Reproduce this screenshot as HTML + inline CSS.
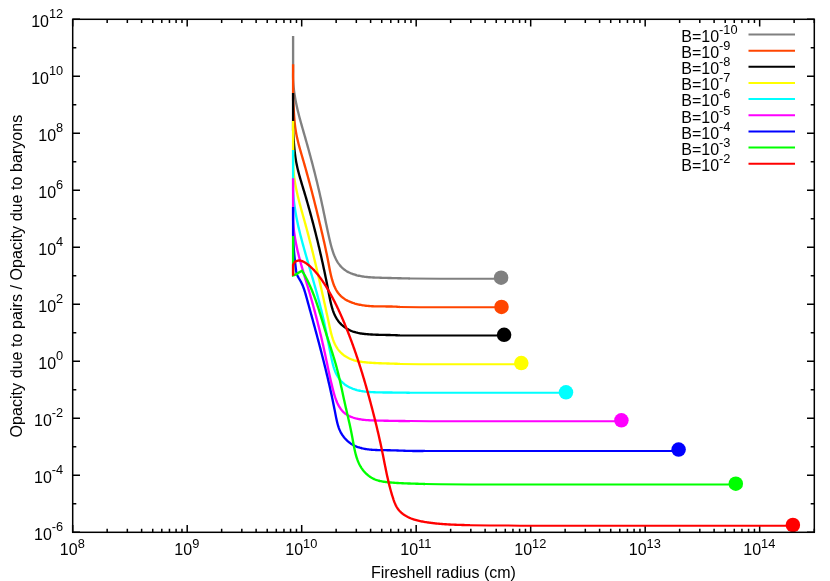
<!DOCTYPE html>
<html lang="en"><head><meta charset="utf-8"><title>Opacity ratio vs fireshell radius</title>
<style>
html,body{margin:0;padding:0;background:#fff;}
body{width:830px;height:581px;overflow:hidden;}
svg{display:block;will-change:transform;}
text{font-family:"Liberation Sans",sans-serif;font-size:16px;fill:#000;}
.s{font-size:12.8px;}
.ax{stroke:#000;stroke-width:1.5;fill:none;shape-rendering:auto;}
.c{fill:none;stroke-width:2.35;stroke-linejoin:miter;stroke-linecap:butt;}
.t{stroke-width:2;}
</style></head><body>
<svg width="830" height="581" viewBox="0 0 830 581">
<rect x="0" y="0" width="830" height="581" fill="#ffffff"/>
<path class="ax" d="M72.7 532.3v-7.3M72.7 19.3v7.3M107.17 532.3v-3.6M107.17 19.3v3.6M127.33 532.3v-3.6M127.33 19.3v3.6M141.63 532.3v-3.6M141.63 19.3v3.6M152.73 532.3v-3.6M152.73 19.3v3.6M161.79 532.3v-3.6M161.79 19.3v3.6M169.46 532.3v-3.6M169.46 19.3v3.6M176.1 532.3v-3.6M176.1 19.3v3.6M181.96 532.3v-3.6M181.96 19.3v3.6M187.2 532.3v-7.3M187.2 19.3v7.3M221.66 532.3v-3.6M221.66 19.3v3.6M241.82 532.3v-3.6M241.82 19.3v3.6M256.13 532.3v-3.6M256.13 19.3v3.6M267.22 532.3v-3.6M267.22 19.3v3.6M276.29 532.3v-3.6M276.29 19.3v3.6M283.96 532.3v-3.6M283.96 19.3v3.6M290.59 532.3v-3.6M290.59 19.3v3.6M296.45 532.3v-3.6M296.45 19.3v3.6M301.69 532.3v-7.3M301.69 19.3v7.3M336.16 532.3v-3.6M336.16 19.3v3.6M356.32 532.3v-3.6M356.32 19.3v3.6M370.62 532.3v-3.6M370.62 19.3v3.6M381.72 532.3v-3.6M381.72 19.3v3.6M390.79 532.3v-3.6M390.79 19.3v3.6M398.45 532.3v-3.6M398.45 19.3v3.6M405.09 532.3v-3.6M405.09 19.3v3.6M410.95 532.3v-3.6M410.95 19.3v3.6M416.19 532.3v-7.3M416.19 19.3v7.3M450.65 532.3v-3.6M450.65 19.3v3.6M470.81 532.3v-3.6M470.81 19.3v3.6M485.12 532.3v-3.6M485.12 19.3v3.6M496.21 532.3v-3.6M496.21 19.3v3.6M505.28 532.3v-3.6M505.28 19.3v3.6M512.95 532.3v-3.6M512.95 19.3v3.6M519.59 532.3v-3.6M519.59 19.3v3.6M525.44 532.3v-3.6M525.44 19.3v3.6M530.68 532.3v-7.3M530.68 19.3v7.3M565.15 532.3v-3.6M565.15 19.3v3.6M585.31 532.3v-3.6M585.31 19.3v3.6M599.61 532.3v-3.6M599.61 19.3v3.6M610.71 532.3v-3.6M610.71 19.3v3.6M619.78 532.3v-3.6M619.78 19.3v3.6M627.44 532.3v-3.6M627.44 19.3v3.6M634.08 532.3v-3.6M634.08 19.3v3.6M639.94 532.3v-3.6M639.94 19.3v3.6M645.18 532.3v-7.3M645.18 19.3v7.3M679.64 532.3v-3.6M679.64 19.3v3.6M699.8 532.3v-3.6M699.8 19.3v3.6M714.11 532.3v-3.6M714.11 19.3v3.6M725.21 532.3v-3.6M725.21 19.3v3.6M734.27 532.3v-3.6M734.27 19.3v3.6M741.94 532.3v-3.6M741.94 19.3v3.6M748.58 532.3v-3.6M748.58 19.3v3.6M754.43 532.3v-3.6M754.43 19.3v3.6M759.67 532.3v-7.3M759.67 19.3v7.3M794.14 532.3v-3.6M794.14 19.3v3.6M814.3 532.3v-3.6M814.3 19.3v3.6M72.7 532.3h7.3M814.3 532.3h-7.3M72.7 503.8h3.6M814.3 503.8h-3.6M72.7 475.3h7.3M814.3 475.3h-7.3M72.7 446.8h3.6M814.3 446.8h-3.6M72.7 418.3h7.3M814.3 418.3h-7.3M72.7 389.8h3.6M814.3 389.8h-3.6M72.7 361.3h7.3M814.3 361.3h-7.3M72.7 332.8h3.6M814.3 332.8h-3.6M72.7 304.3h7.3M814.3 304.3h-7.3M72.7 275.8h3.6M814.3 275.8h-3.6M72.7 247.3h7.3M814.3 247.3h-7.3M72.7 218.8h3.6M814.3 218.8h-3.6M72.7 190.3h7.3M814.3 190.3h-7.3M72.7 161.8h3.6M814.3 161.8h-3.6M72.7 133.3h7.3M814.3 133.3h-7.3M72.7 104.8h3.6M814.3 104.8h-3.6M72.7 76.3h7.3M814.3 76.3h-7.3M72.7 47.8h3.6M814.3 47.8h-3.6M72.7 19.3h7.3M814.3 19.3h-7.3"/>
<text x="63.2" y="539.7" text-anchor="end">10<tspan class="s" dy="-8.7">-6</tspan></text>
<text x="63.2" y="482.7" text-anchor="end">10<tspan class="s" dy="-8.7">-4</tspan></text>
<text x="63.2" y="425.7" text-anchor="end">10<tspan class="s" dy="-8.7">-2</tspan></text>
<text x="63.2" y="368.7" text-anchor="end">10<tspan class="s" dy="-8.7">0</tspan></text>
<text x="63.2" y="311.7" text-anchor="end">10<tspan class="s" dy="-8.7">2</tspan></text>
<text x="63.2" y="254.7" text-anchor="end">10<tspan class="s" dy="-8.7">4</tspan></text>
<text x="63.2" y="197.7" text-anchor="end">10<tspan class="s" dy="-8.7">6</tspan></text>
<text x="63.2" y="140.7" text-anchor="end">10<tspan class="s" dy="-8.7">8</tspan></text>
<text x="63.2" y="83.7" text-anchor="end">10<tspan class="s" dy="-8.7">10</tspan></text>
<text x="63.2" y="26.7" text-anchor="end">10<tspan class="s" dy="-8.7">12</tspan></text>
<text x="72.3" y="555.4" text-anchor="middle">10<tspan class="s" dy="-7.8">8</tspan></text>
<text x="186.8" y="555.4" text-anchor="middle">10<tspan class="s" dy="-7.8">9</tspan></text>
<text x="301.29" y="555.4" text-anchor="middle">10<tspan class="s" dy="-7.8">10</tspan></text>
<text x="415.79" y="555.4" text-anchor="middle">10<tspan class="s" dy="-7.8">11</tspan></text>
<text x="530.28" y="555.4" text-anchor="middle">10<tspan class="s" dy="-7.8">12</tspan></text>
<text x="644.78" y="555.4" text-anchor="middle">10<tspan class="s" dy="-7.8">13</tspan></text>
<text x="759.27" y="555.4" text-anchor="middle">10<tspan class="s" dy="-7.8">14</tspan></text>
<text x="443.5" y="578.2" text-anchor="middle">Fireshell radius (cm)</text>
<text transform="translate(21.6,276.1) rotate(-90)" text-anchor="middle" textLength="322.8" lengthAdjust="spacing">Opacity due to pairs / Opacity due to baryons</text>
<text x="681.3" y="41.9">B=10<tspan class="s" dy="-8">-10</tspan></text>
<path class="c t" stroke="#808080" d="M748.5 34.6H795"/>
<text x="681.3" y="58.03">B=10<tspan class="s" dy="-8">-9</tspan></text>
<path class="c t" stroke="#ff4500" d="M748.5 50.73H795"/>
<text x="681.3" y="74.16">B=10<tspan class="s" dy="-8">-8</tspan></text>
<path class="c t" stroke="#000000" d="M748.5 66.86H795"/>
<text x="681.3" y="90.29">B=10<tspan class="s" dy="-8">-7</tspan></text>
<path class="c t" stroke="#ffff00" d="M748.5 82.99H795"/>
<text x="681.3" y="106.42">B=10<tspan class="s" dy="-8">-6</tspan></text>
<path class="c t" stroke="#00ffff" d="M748.5 99.12H795"/>
<text x="681.3" y="122.55">B=10<tspan class="s" dy="-8">-5</tspan></text>
<path class="c t" stroke="#ff00ff" d="M748.5 115.25H795"/>
<text x="681.3" y="138.68">B=10<tspan class="s" dy="-8">-4</tspan></text>
<path class="c t" stroke="#0000ff" d="M748.5 131.38H795"/>
<text x="681.3" y="154.81">B=10<tspan class="s" dy="-8">-3</tspan></text>
<path class="c t" stroke="#00ff00" d="M748.5 147.51H795"/>
<text x="681.3" y="170.94">B=10<tspan class="s" dy="-8">-2</tspan></text>
<path class="c t" stroke="#ff0000" d="M748.5 163.64H795"/>
<polyline class="c" stroke="#808080" points="293.1,36 293.1,72 293.07,73.02 293.06,74.04 293.05,75.05 293.05,76.07 293.06,77.08 293.08,78.09 293.11,79.1 293.15,80.11 293.2,81.11 293.25,82.11 293.32,83.12 293.39,84.12 293.47,85.11 293.55,86.11 293.65,87.11 293.75,88.1 293.86,89.09 293.97,90.09 294.1,91.08 294.23,92.06 294.37,93.05 294.51,94.04 294.66,95.02 294.82,96.01 294.98,96.99 295.15,97.97 295.32,98.95 295.5,99.93 295.69,100.91 295.88,101.89 296.07,102.86 296.27,103.84 296.48,104.81 296.69,105.79 296.9,106.76 297.12,107.73 297.34,108.7 297.57,109.67 297.8,110.64 298.04,111.61 298.27,112.58 298.52,113.55 298.76,114.52 299.01,115.48 299.26,116.45 299.51,117.42 299.77,118.38 300.03,119.35 300.29,120.31 300.55,121.28 300.82,122.24 301.09,123.21 301.36,124.17 301.63,125.13 301.9,126.1 302.17,127.06 302.45,128.02 302.72,128.99 303,129.95 303.27,130.92 303.55,131.88 303.83,132.84 304.11,133.81 304.38,134.77 304.66,135.74 304.94,136.7 305.21,137.67 305.49,138.63 305.76,139.6 306.04,140.56 306.31,141.53 306.59,142.5 306.86,143.46 307.13,144.43 307.4,145.4 307.67,146.37 307.94,147.33 308.21,148.3 308.47,149.27 308.74,150.24 309.01,151.21 309.27,152.18 309.53,153.15 309.8,154.12 310.06,155.09 310.32,156.06 310.58,157.03 310.84,158 311.1,158.97 311.36,159.94 311.62,160.91 311.87,161.88 312.13,162.86 312.38,163.83 312.64,164.8 312.89,165.77 313.14,166.74 313.39,167.72 313.64,168.69 313.89,169.66 314.14,170.63 314.39,171.61 314.63,172.58 314.88,173.55 315.12,174.52 315.36,175.5 315.61,176.47 315.85,177.44 316.09,178.42 316.32,179.39 316.56,180.36 316.8,181.33 317.04,182.31 317.27,183.28 317.5,184.25 317.74,185.23 317.97,186.2 318.2,187.17 318.43,188.15 318.66,189.12 318.88,190.09 319.11,191.06 319.33,192.04 319.56,193.01 319.78,193.98 320,194.95 320.22,195.93 320.44,196.9 320.66,197.87 320.88,198.84 321.09,199.81 321.31,200.79 321.52,201.76 321.73,202.73 321.94,203.7 322.15,204.67 322.36,205.64 322.57,206.61 322.77,207.58 322.98,208.55 323.18,209.52 323.38,210.49 323.59,211.47 323.79,212.44 323.99,213.41 324.19,214.38 324.39,215.35 324.59,216.32 324.79,217.3 325,218.27 325.2,219.24 325.4,220.22 325.6,221.19 325.8,222.17 326.01,223.15 326.21,224.12 326.42,225.1 326.62,226.08 326.83,227.06 327.04,228.05 327.25,229.03 327.46,230.02 327.68,231 327.89,231.99 328.11,232.98 328.33,233.97 328.55,234.96 328.78,235.96 329,236.95 329.23,237.95 329.46,238.95 329.7,239.96 329.94,240.96 330.18,241.96 330.42,242.97 330.67,243.97 330.93,244.97 331.19,245.97 331.47,246.97 331.74,247.96 332.03,248.95 332.33,249.93 332.64,250.91 332.96,251.87 333.29,252.83 333.63,253.78 333.99,254.72 334.36,255.65 334.75,256.56 335.15,257.47 335.57,258.36 336,259.24 336.45,260.1 336.92,260.94 337.41,261.77 337.92,262.58 338.45,263.37 339,264.15 339.58,264.9 340.17,265.63 340.79,266.34 341.43,267.03 342.1,267.69 342.8,268.33 343.52,268.95 344.26,269.53 345.04,270.1 345.84,270.63 346.66,271.14 347.5,271.63 348.37,272.1 349.25,272.54 350.15,272.95 351.07,273.35 352,273.72 352.95,274.07 353.91,274.4 354.88,274.71 355.86,275 356.85,275.28 357.85,275.53 358.85,275.76 359.86,275.97 360.87,276.17 361.88,276.35 362.9,276.51 363.91,276.66 364.92,276.8 365.94,276.92 366.95,277.02 367.97,277.12 368.98,277.21 370,277.28 371.01,277.35 372.03,277.41 373.04,277.47 374.05,277.51 375.06,277.56 376.07,277.6 377.07,277.63 378.07,277.67 379.08,277.7 380.08,277.74 381.07,277.77 382.07,277.8 383.06,277.83 384.06,277.86 385.05,277.89 386.04,277.92 387.03,277.94 388.02,277.97 389.01,277.99 390,278.02 390.99,278.04 391.98,278.07 392.97,278.09 393.96,278.11 394.95,278.14 395.94,278.16 396.94,278.18 397.93,278.21 398.93,278.23 399.92,278.25 400.92,278.27 401.92,278.3 402.92,278.32 403.93,278.35 404.93,278.37 405.94,278.39 406.95,278.42 407.96,278.45 408.98,278.47 410,278.5"/>
<polyline class="c t" stroke="#808080" points="410,278.5 440,278.7 501.1,278.7"/>
<polyline class="c" stroke="#ff4500" points="293.1,64.2 293.1,100 293.17,100.99 293.24,101.99 293.31,102.98 293.37,103.98 293.43,104.98 293.5,105.97 293.56,106.98 293.62,107.98 293.68,108.98 293.74,109.98 293.8,110.99 293.87,111.99 293.93,113 294,114 294.06,115.01 294.14,116.01 294.21,117.02 294.29,118.02 294.37,119.03 294.46,120.03 294.55,121.04 294.64,122.04 294.74,123.04 294.85,124.04 294.96,125.04 295.08,126.04 295.21,127.03 295.34,128.03 295.48,129.02 295.63,130.01 295.79,131 295.96,131.99 296.13,132.98 296.31,133.96 296.51,134.94 296.7,135.92 296.91,136.9 297.12,137.87 297.34,138.85 297.57,139.82 297.8,140.79 298.04,141.76 298.28,142.73 298.53,143.7 298.78,144.67 299.03,145.63 299.29,146.6 299.56,147.56 299.82,148.53 300.09,149.49 300.37,150.45 300.64,151.41 300.92,152.38 301.2,153.34 301.47,154.3 301.76,155.26 302.04,156.22 302.32,157.18 302.6,158.15 302.88,159.11 303.16,160.07 303.44,161.03 303.72,162 304,162.96 304.28,163.92 304.55,164.89 304.83,165.85 305.1,166.82 305.38,167.79 305.65,168.75 305.92,169.72 306.19,170.69 306.46,171.65 306.73,172.62 307,173.59 307.27,174.56 307.53,175.53 307.8,176.49 308.06,177.46 308.33,178.43 308.59,179.4 308.85,180.37 309.11,181.34 309.38,182.31 309.64,183.28 309.9,184.25 310.15,185.23 310.41,186.2 310.67,187.17 310.93,188.14 311.18,189.11 311.44,190.08 311.69,191.06 311.94,192.03 312.2,193 312.45,193.97 312.7,194.95 312.95,195.92 313.2,196.89 313.45,197.87 313.7,198.84 313.94,199.81 314.19,200.79 314.44,201.76 314.68,202.73 314.93,203.71 315.17,204.68 315.42,205.65 315.66,206.63 315.9,207.6 316.14,208.57 316.39,209.55 316.63,210.52 316.87,211.49 317.11,212.47 317.34,213.44 317.58,214.41 317.82,215.39 318.06,216.36 318.29,217.33 318.53,218.31 318.77,219.28 319,220.25 319.23,221.22 319.47,222.2 319.7,223.17 319.93,224.14 320.17,225.11 320.4,226.08 320.63,227.05 320.86,228.03 321.09,229 321.32,229.97 321.55,230.94 321.78,231.91 322,232.88 322.23,233.85 322.46,234.82 322.68,235.8 322.91,236.77 323.13,237.74 323.35,238.71 323.58,239.68 323.8,240.66 324.02,241.63 324.24,242.6 324.45,243.58 324.67,244.55 324.89,245.53 325.1,246.51 325.31,247.48 325.53,248.46 325.74,249.44 325.95,250.42 326.15,251.4 326.36,252.39 326.57,253.37 326.77,254.35 326.97,255.34 327.17,256.33 327.37,257.31 327.57,258.3 327.76,259.29 327.96,260.29 328.15,261.28 328.34,262.28 328.53,263.27 328.72,264.27 328.91,265.27 329.1,266.27 329.29,267.27 329.48,268.27 329.67,269.27 329.87,270.27 330.07,271.27 330.28,272.27 330.5,273.27 330.72,274.26 330.95,275.26 331.19,276.25 331.44,277.24 331.7,278.23 331.97,279.21 332.25,280.2 332.55,281.17 332.86,282.14 333.18,283.1 333.52,284.05 333.88,285 334.25,285.93 334.65,286.84 335.06,287.74 335.5,288.63 335.95,289.49 336.43,290.34 336.93,291.17 337.46,291.97 338.01,292.75 338.59,293.51 339.19,294.24 339.83,294.94 340.49,295.62 341.17,296.27 341.88,296.9 342.61,297.5 343.37,298.07 344.14,298.62 344.94,299.15 345.76,299.65 346.6,300.13 347.45,300.59 348.32,301.03 349.21,301.45 350.12,301.84 351.04,302.22 351.97,302.57 352.91,302.91 353.87,303.22 354.83,303.52 355.81,303.8 356.79,304.06 357.79,304.31 358.79,304.54 359.79,304.75 360.8,304.95 361.82,305.13 362.83,305.29 363.85,305.45 364.88,305.59 365.9,305.71 366.92,305.82 367.94,305.92 368.96,306.01 369.97,306.09 370.98,306.16 372,306.22 373.01,306.27 374.02,306.31 375.02,306.34 376.03,306.37 377.04,306.39 378.04,306.41 379.04,306.42 380.04,306.43 381.04,306.43 382.04,306.44 383.04,306.44 384.04,306.44 385.04,306.45 386.04,306.45 387.04,306.45 388.03,306.46 389.03,306.47 390.03,306.48 391.02,306.5 392.02,306.53 393.01,306.56 394.01,306.59 395.01,306.64 396.01,306.69 397,306.75 398,306.82 399,306.91 400,307"/>
<polyline class="c t" stroke="#ff4500" points="400,307 420,307.25 501.5,307.25"/>
<polyline class="c" stroke="#000000" points="293.1,92.9 293.1,130 293.15,130.99 293.21,131.98 293.26,132.97 293.32,133.96 293.38,134.96 293.43,135.96 293.49,136.95 293.55,137.95 293.62,138.95 293.68,139.95 293.75,140.95 293.82,141.95 293.89,142.95 293.97,143.96 294.05,144.96 294.14,145.96 294.22,146.96 294.32,147.96 294.41,148.96 294.51,149.96 294.62,150.96 294.73,151.96 294.85,152.96 294.97,153.96 295.1,154.95 295.23,155.95 295.37,156.94 295.52,157.93 295.68,158.92 295.84,159.91 296.01,160.9 296.18,161.88 296.37,162.86 296.56,163.84 296.76,164.82 296.97,165.79 297.18,166.77 297.4,167.74 297.63,168.71 297.86,169.67 298.1,170.64 298.34,171.61 298.59,172.57 298.84,173.53 299.1,174.49 299.37,175.45 299.63,176.41 299.9,177.37 300.18,178.33 300.45,179.28 300.73,180.24 301.01,181.2 301.3,182.15 301.58,183.11 301.87,184.06 302.16,185.02 302.45,185.97 302.74,186.93 303.03,187.88 303.32,188.84 303.61,189.79 303.9,190.75 304.19,191.71 304.47,192.67 304.76,193.62 305.05,194.58 305.33,195.54 305.61,196.5 305.9,197.46 306.18,198.43 306.46,199.39 306.74,200.35 307.02,201.31 307.29,202.28 307.57,203.24 307.84,204.21 308.12,205.17 308.39,206.14 308.66,207.1 308.93,208.07 309.2,209.03 309.47,210 309.74,210.97 310.01,211.94 310.27,212.91 310.54,213.87 310.8,214.84 311.07,215.81 311.33,216.78 311.59,217.75 311.85,218.72 312.11,219.69 312.36,220.66 312.62,221.63 312.88,222.6 313.13,223.57 313.38,224.54 313.64,225.52 313.89,226.49 314.14,227.46 314.39,228.43 314.64,229.4 314.88,230.37 315.13,231.34 315.37,232.32 315.62,233.29 315.86,234.26 316.1,235.23 316.35,236.2 316.59,237.17 316.82,238.14 317.06,239.12 317.3,240.09 317.54,241.06 317.77,242.03 318.01,243 318.24,243.97 318.47,244.94 318.7,245.91 318.93,246.88 319.16,247.85 319.39,248.82 319.61,249.79 319.84,250.76 320.07,251.73 320.29,252.7 320.51,253.66 320.73,254.63 320.95,255.6 321.17,256.57 321.39,257.53 321.61,258.5 321.83,259.46 322.04,260.43 322.26,261.4 322.47,262.36 322.68,263.33 322.9,264.29 323.11,265.26 323.32,266.23 323.53,267.19 323.73,268.16 323.94,269.13 324.15,270.1 324.35,271.07 324.56,272.04 324.76,273.01 324.97,273.98 325.17,274.96 325.37,275.93 325.57,276.91 325.77,277.88 325.97,278.86 326.17,279.84 326.37,280.82 326.57,281.81 326.77,282.79 326.96,283.78 327.16,284.77 327.36,285.76 327.55,286.75 327.74,287.75 327.94,288.74 328.13,289.74 328.32,290.74 328.52,291.75 328.71,292.76 328.9,293.77 329.09,294.78 329.29,295.79 329.48,296.8 329.68,297.81 329.89,298.83 330.09,299.84 330.31,300.84 330.53,301.85 330.76,302.85 330.99,303.84 331.24,304.83 331.5,305.82 331.76,306.79 332.04,307.76 332.34,308.72 332.64,309.68 332.96,310.62 333.3,311.55 333.65,312.48 334.02,313.39 334.4,314.29 334.81,315.17 335.23,316.04 335.68,316.9 336.15,317.74 336.63,318.57 337.15,319.38 337.68,320.17 338.24,320.95 338.83,321.7 339.44,322.44 340.08,323.15 340.75,323.85 341.43,324.53 342.15,325.18 342.88,325.81 343.63,326.43 344.41,327.01 345.21,327.58 346.02,328.12 346.86,328.64 347.71,329.14 348.57,329.61 349.46,330.05 350.35,330.47 351.26,330.87 352.19,331.24 353.12,331.58 354.07,331.89 355.03,332.18 355.99,332.45 356.97,332.69 357.95,332.92 358.94,333.12 359.94,333.3 360.94,333.47 361.94,333.62 362.95,333.76 363.96,333.88 364.98,333.99 365.99,334.09 367,334.18 368.02,334.26 369.03,334.34 370.04,334.41 371.05,334.47 372.05,334.53 373.06,334.58 374.06,334.63 375.07,334.67 376.07,334.71 377.07,334.75 378.07,334.78 379.07,334.81 380.07,334.84 381.07,334.86 382.06,334.88 383.06,334.91 384.06,334.93 385.05,334.94 386.05,334.96 387.04,334.98 388.04,335 389.04,335.02 390.03,335.04 391.03,335.07 392.02,335.09 393.02,335.12 394.01,335.15 395.01,335.18 396.01,335.22 397,335.25 398,335.3 399,335.35 400,335.4"/>
<polyline class="c t" stroke="#000000" points="400,335.4 425,335.5 504.1,335.5"/>
<polyline class="c" stroke="#ffff00" points="293.1,121.1 293.1,160 293.1,161.02 293.1,162.04 293.11,163.05 293.14,164.07 293.17,165.08 293.21,166.09 293.26,167.1 293.32,168.11 293.38,169.11 293.46,170.11 293.54,171.11 293.63,172.11 293.73,173.11 293.83,174.11 293.94,175.1 294.06,176.09 294.19,177.08 294.32,178.07 294.46,179.06 294.61,180.05 294.76,181.03 294.92,182.02 295.09,183 295.26,183.98 295.44,184.96 295.62,185.94 295.81,186.92 296,187.9 296.2,188.87 296.4,189.85 296.61,190.82 296.82,191.79 297.04,192.77 297.26,193.74 297.48,194.71 297.71,195.68 297.94,196.65 298.18,197.62 298.42,198.58 298.66,199.55 298.9,200.52 299.15,201.49 299.4,202.45 299.65,203.42 299.91,204.38 300.17,205.35 300.43,206.31 300.69,207.28 300.95,208.24 301.21,209.2 301.48,210.17 301.75,211.13 302.02,212.1 302.28,213.06 302.55,214.02 302.82,214.99 303.09,215.95 303.36,216.92 303.64,217.88 303.91,218.85 304.18,219.81 304.45,220.78 304.71,221.74 304.98,222.71 305.25,223.67 305.52,224.64 305.78,225.61 306.04,226.58 306.31,227.55 306.57,228.51 306.83,229.48 307.09,230.45 307.35,231.42 307.61,232.39 307.87,233.37 308.12,234.34 308.38,235.31 308.63,236.28 308.89,237.25 309.14,238.22 309.39,239.2 309.64,240.17 309.89,241.14 310.14,242.11 310.39,243.09 310.64,244.06 310.89,245.04 311.13,246.01 311.38,246.98 311.63,247.96 311.87,248.93 312.11,249.91 312.36,250.88 312.6,251.86 312.84,252.83 313.08,253.81 313.32,254.78 313.56,255.76 313.79,256.73 314.03,257.71 314.27,258.68 314.51,259.66 314.74,260.63 314.98,261.61 315.21,262.58 315.44,263.56 315.68,264.53 315.91,265.51 316.14,266.48 316.37,267.46 316.6,268.43 316.83,269.4 317.06,270.38 317.29,271.35 317.52,272.33 317.74,273.3 317.97,274.27 318.2,275.25 318.42,276.22 318.65,277.19 318.87,278.16 319.1,279.14 319.32,280.11 319.54,281.08 319.76,282.05 319.99,283.02 320.21,283.99 320.43,284.96 320.65,285.93 320.87,286.9 321.09,287.87 321.31,288.84 321.53,289.81 321.75,290.78 321.97,291.75 322.18,292.72 322.4,293.68 322.62,294.65 322.83,295.62 323.05,296.59 323.27,297.56 323.48,298.53 323.7,299.5 323.91,300.47 324.13,301.44 324.34,302.41 324.56,303.38 324.77,304.35 324.99,305.32 325.2,306.3 325.41,307.27 325.63,308.25 325.84,309.23 326.05,310.21 326.27,311.19 326.48,312.17 326.69,313.15 326.91,314.13 327.12,315.12 327.33,316.11 327.55,317.1 327.76,318.09 327.97,319.08 328.19,320.07 328.4,321.07 328.61,322.07 328.82,323.07 329.04,324.07 329.25,325.08 329.47,326.08 329.68,327.09 329.9,328.09 330.13,329.1 330.36,330.1 330.59,331.1 330.83,332.1 331.08,333.09 331.34,334.08 331.61,335.06 331.89,336.04 332.18,337.01 332.49,337.97 332.8,338.92 333.13,339.86 333.48,340.79 333.84,341.71 334.23,342.62 334.62,343.51 335.04,344.39 335.48,345.26 335.94,346.11 336.42,346.95 336.93,347.77 337.46,348.57 338.01,349.35 338.59,350.11 339.19,350.86 339.83,351.58 340.49,352.28 341.18,352.96 341.9,353.61 342.64,354.25 343.41,354.86 344.2,355.45 345.01,356.01 345.84,356.55 346.7,357.06 347.57,357.55 348.45,358.02 349.35,358.46 350.27,358.87 351.2,359.26 352.14,359.62 353.09,359.95 354.05,360.26 355.02,360.54 355.99,360.8 356.98,361.04 357.96,361.25 358.96,361.45 359.96,361.62 360.96,361.78 361.96,361.93 362.97,362.06 363.98,362.18 364.99,362.29 366,362.38 367.01,362.48 368.02,362.56 369.03,362.64 370.04,362.71 371.04,362.78 372.04,362.85 373.04,362.91 374.04,362.97 375.04,363.02 376.04,363.08 377.04,363.12 378.03,363.17 379.03,363.21 380.02,363.25 381.02,363.29 382.01,363.32 383,363.36 384,363.39 384.99,363.42 385.99,363.45 386.98,363.48 387.98,363.51 388.97,363.54 389.97,363.57 390.97,363.6 391.96,363.62 392.96,363.65 393.96,363.68 394.97,363.72 395.97,363.75 396.97,363.78 397.98,363.82 398.99,363.86 400,363.9"/>
<polyline class="c t" stroke="#ffff00" points="400,363.9 420,364.15 450,364.25 521.3,364.25"/>
<polyline class="c" stroke="#00ffff" points="293.1,149.9 293.1,190 293.15,191.01 293.2,192.02 293.26,193.02 293.33,194.03 293.4,195.03 293.48,196.04 293.56,197.04 293.65,198.04 293.75,199.04 293.85,200.04 293.95,201.04 294.07,202.03 294.19,203.03 294.31,204.02 294.44,205.02 294.57,206.01 294.71,207 294.85,207.99 295,208.98 295.15,209.97 295.31,210.96 295.48,211.95 295.64,212.93 295.81,213.92 295.99,214.9 296.17,215.89 296.35,216.87 296.54,217.85 296.73,218.84 296.93,219.82 297.13,220.8 297.33,221.78 297.54,222.75 297.75,223.73 297.97,224.71 298.18,225.69 298.4,226.66 298.63,227.64 298.85,228.61 299.08,229.59 299.32,230.56 299.55,231.54 299.79,232.51 300.03,233.48 300.28,234.45 300.52,235.42 300.77,236.4 301.02,237.37 301.27,238.34 301.53,239.31 301.78,240.28 302.04,241.24 302.3,242.21 302.56,243.18 302.83,244.15 303.09,245.12 303.36,246.09 303.63,247.05 303.9,248.02 304.17,248.99 304.44,249.95 304.71,250.92 304.99,251.89 305.26,252.85 305.53,253.82 305.81,254.79 306.09,255.75 306.36,256.72 306.64,257.68 306.92,258.65 307.2,259.61 307.47,260.58 307.75,261.55 308.03,262.51 308.31,263.48 308.59,264.44 308.87,265.41 309.15,266.37 309.43,267.34 309.71,268.3 309.99,269.27 310.27,270.23 310.55,271.2 310.83,272.16 311.11,273.13 311.39,274.09 311.67,275.06 311.95,276.02 312.23,276.99 312.51,277.95 312.79,278.92 313.07,279.88 313.34,280.85 313.62,281.82 313.9,282.78 314.17,283.75 314.45,284.71 314.72,285.68 314.99,286.64 315.27,287.61 315.54,288.58 315.81,289.54 316.08,290.51 316.35,291.48 316.62,292.44 316.88,293.41 317.15,294.38 317.41,295.35 317.68,296.31 317.94,297.28 318.2,298.25 318.46,299.22 318.72,300.19 318.97,301.16 319.23,302.12 319.48,303.09 319.74,304.06 319.99,305.03 320.24,306 320.48,306.97 320.73,307.94 320.97,308.91 321.22,309.88 321.46,310.86 321.7,311.83 321.93,312.8 322.17,313.77 322.4,314.74 322.63,315.72 322.86,316.69 323.09,317.66 323.31,318.64 323.53,319.61 323.75,320.58 323.97,321.56 324.19,322.54 324.4,323.51 324.61,324.49 324.82,325.46 325.03,326.44 325.23,327.42 325.44,328.39 325.64,329.37 325.84,330.35 326.04,331.33 326.24,332.31 326.44,333.29 326.63,334.27 326.83,335.25 327.03,336.23 327.22,337.21 327.42,338.2 327.61,339.18 327.81,340.16 328,341.15 328.2,342.13 328.39,343.12 328.59,344.1 328.78,345.09 328.98,346.07 329.18,347.06 329.37,348.05 329.57,349.04 329.77,350.03 329.98,351.02 330.18,352.01 330.38,353 330.59,353.99 330.8,354.98 331.01,355.98 331.22,356.97 331.43,357.96 331.65,358.96 331.87,359.95 332.09,360.95 332.32,361.94 332.55,362.93 332.8,363.92 333.05,364.91 333.32,365.88 333.6,366.86 333.9,367.82 334.21,368.78 334.54,369.72 334.89,370.66 335.26,371.59 335.65,372.5 336.06,373.4 336.5,374.29 336.97,375.16 337.46,376.02 337.97,376.85 338.5,377.67 339.06,378.48 339.64,379.26 340.25,380.02 340.88,380.76 341.53,381.47 342.2,382.17 342.91,382.83 343.63,383.47 344.38,384.09 345.15,384.68 345.94,385.24 346.76,385.77 347.59,386.28 348.45,386.76 349.32,387.21 350.21,387.65 351.11,388.05 352.03,388.44 352.96,388.8 353.91,389.14 354.86,389.46 355.83,389.75 356.8,390.03 357.78,390.28 358.77,390.52 359.77,390.73 360.76,390.93 361.77,391.11 362.77,391.28 363.78,391.42 364.79,391.56 365.8,391.68 366.82,391.78 367.83,391.88 368.85,391.96 369.87,392.03 370.89,392.1 371.9,392.15 372.92,392.2 373.94,392.24 374.95,392.28 375.97,392.31 376.98,392.34 377.99,392.37 379,392.39 380,392.41 381.01,392.43 382.01,392.45 383.01,392.46 384.01,392.48 385.01,392.49 386,392.5 387,392.51 388,392.52 388.99,392.52 389.98,392.53 390.98,392.54 391.97,392.54 392.97,392.55 393.96,392.55 394.95,392.56 395.95,392.57 396.94,392.57 397.94,392.58 398.94,392.59 399.93,392.6 400.93,392.61 401.93,392.63 402.93,392.64 403.94,392.66 404.94,392.67 405.95,392.69 406.96,392.72 407.97,392.74 408.98,392.77 410,392.8"/>
<polyline class="c t" stroke="#00ffff" points="410,392.8 430,392.85 566,392.85"/>
<polyline class="c" stroke="#ff00ff" points="293.1,178.3 293.1,220 293.15,221.01 293.2,222.02 293.26,223.03 293.33,224.04 293.41,225.05 293.49,226.05 293.58,227.05 293.68,228.06 293.78,229.05 293.9,230.05 294.01,231.05 294.14,232.04 294.27,233.04 294.41,234.03 294.55,235.02 294.7,236.01 294.85,236.99 295.01,237.98 295.18,238.96 295.35,239.95 295.53,240.93 295.71,241.91 295.9,242.89 296.09,243.87 296.29,244.84 296.49,245.82 296.7,246.79 296.91,247.77 297.12,248.74 297.34,249.71 297.57,250.68 297.8,251.65 298.03,252.62 298.26,253.59 298.5,254.56 298.74,255.53 298.99,256.49 299.24,257.46 299.49,258.42 299.75,259.39 300.01,260.35 300.27,261.31 300.53,262.27 300.8,263.24 301.06,264.2 301.33,265.16 301.61,266.12 301.88,267.08 302.16,268.04 302.44,269 302.72,269.96 303,270.92 303.28,271.88 303.56,272.83 303.85,273.79 304.14,274.75 304.42,275.71 304.71,276.67 305,277.63 305.29,278.58 305.58,279.54 305.86,280.5 306.15,281.46 306.44,282.42 306.73,283.38 307.02,284.34 307.31,285.3 307.6,286.25 307.88,287.21 308.17,288.17 308.46,289.14 308.74,290.1 309.02,291.06 309.31,292.02 309.59,292.98 309.87,293.95 310.15,294.91 310.42,295.87 310.7,296.84 310.98,297.8 311.25,298.77 311.53,299.73 311.8,300.7 312.07,301.66 312.34,302.63 312.61,303.59 312.88,304.56 313.14,305.53 313.41,306.5 313.68,307.46 313.94,308.43 314.2,309.4 314.46,310.37 314.72,311.34 314.98,312.3 315.24,313.27 315.5,314.24 315.76,315.21 316.01,316.18 316.26,317.15 316.52,318.12 316.77,319.09 317.02,320.06 317.27,321.03 317.52,322.01 317.76,322.98 318.01,323.95 318.26,324.92 318.5,325.89 318.74,326.86 318.98,327.83 319.22,328.81 319.46,329.78 319.7,330.75 319.94,331.72 320.17,332.7 320.41,333.67 320.64,334.64 320.88,335.61 321.11,336.58 321.34,337.56 321.57,338.53 321.79,339.5 322.02,340.48 322.25,341.45 322.47,342.42 322.69,343.39 322.92,344.37 323.14,345.34 323.36,346.31 323.57,347.28 323.79,348.26 324.01,349.23 324.22,350.2 324.44,351.17 324.65,352.14 324.86,353.12 325.07,354.09 325.28,355.06 325.49,356.03 325.7,357 325.9,357.98 326.11,358.95 326.31,359.92 326.52,360.89 326.72,361.86 326.92,362.83 327.13,363.81 327.33,364.78 327.53,365.75 327.74,366.73 327.94,367.7 328.15,368.68 328.36,369.65 328.56,370.63 328.77,371.6 328.98,372.58 329.19,373.56 329.4,374.54 329.62,375.51 329.84,376.5 330.05,377.48 330.27,378.46 330.5,379.44 330.72,380.43 330.95,381.41 331.18,382.4 331.41,383.39 331.65,384.37 331.89,385.36 332.13,386.36 332.37,387.35 332.62,388.34 332.87,389.34 333.13,390.34 333.39,391.33 333.66,392.33 333.94,393.32 334.22,394.31 334.51,395.3 334.81,396.28 335.13,397.25 335.45,398.22 335.79,399.17 336.14,400.12 336.5,401.05 336.89,401.97 337.28,402.88 337.7,403.77 338.13,404.65 338.59,405.51 339.06,406.35 339.56,407.17 340.07,407.97 340.61,408.75 341.18,409.5 341.77,410.23 342.39,410.94 343.03,411.62 343.7,412.27 344.4,412.89 345.13,413.49 345.9,414.05 346.69,414.58 347.51,415.08 348.36,415.56 349.23,416 350.12,416.42 351.04,416.81 351.97,417.17 352.92,417.51 353.89,417.83 354.86,418.12 355.85,418.39 356.85,418.63 357.86,418.86 358.87,419.07 359.88,419.26 360.9,419.43 361.92,419.58 362.93,419.72 363.95,419.84 364.97,419.95 365.98,420.05 367,420.13 368.02,420.2 369.03,420.27 370.04,420.32 371.06,420.37 372.07,420.41 373.08,420.45 374.09,420.48 375.09,420.51 376.1,420.54 377.1,420.56 378.1,420.58 379.1,420.61 380.1,420.63 381.09,420.65 382.09,420.67 383.08,420.69 384.07,420.71 385.06,420.73 386.05,420.75 387.04,420.77 388.03,420.79 389.02,420.8 390,420.82 390.99,420.84 391.98,420.85 392.97,420.87 393.96,420.88 394.95,420.9 395.94,420.91 396.93,420.93 397.93,420.94 398.92,420.96 399.92,420.97 400.92,420.98 401.92,421 402.92,421.01 403.92,421.02 404.93,421.03 405.94,421.05 406.95,421.06 407.96,421.07 408.98,421.09 410,421.1"/>
<polyline class="c t" stroke="#ff00ff" points="410,421.1 430,421.15 621.4,421.15"/>
<polyline class="c" stroke="#0000ff" points="293.1,207 293.1,235 293.13,236 293.16,237.01 293.19,238.01 293.23,239.01 293.27,240.02 293.32,241.02 293.37,242.02 293.43,243.02 293.48,244.02 293.54,245.02 293.61,246.02 293.68,247.02 293.75,248.02 293.82,249.02 293.9,250.01 293.98,251.01 294.06,252.01 294.15,253.01 294.24,254.01 294.33,255.01 294.43,256.01 294.52,257 294.62,258 294.73,259 294.83,260 294.94,261 295.05,262 295.16,263 295.27,264 295.39,265 295.5,266 295.62,267.01 295.74,268.01 295.87,269.01 296.02,270.01 296.18,270.99 296.37,271.97 296.59,272.94 296.86,273.9 297.17,274.83 297.54,275.75 297.96,276.65 298.43,277.52 298.94,278.39 299.46,279.25 299.98,280.11 300.49,280.97 300.96,281.85 301.42,282.74 301.85,283.64 302.26,284.54 302.65,285.45 303.03,286.37 303.38,287.3 303.72,288.23 304.05,289.17 304.37,290.12 304.67,291.07 304.96,292.02 305.25,292.97 305.53,293.93 305.8,294.89 306.07,295.86 306.34,296.82 306.61,297.79 306.87,298.75 307.14,299.72 307.4,300.68 307.67,301.65 307.94,302.61 308.2,303.58 308.47,304.55 308.74,305.51 309,306.48 309.27,307.44 309.54,308.41 309.8,309.38 310.07,310.35 310.33,311.31 310.6,312.28 310.87,313.25 311.13,314.21 311.4,315.18 311.66,316.15 311.93,317.12 312.2,318.09 312.46,319.05 312.73,320.02 312.99,320.99 313.26,321.96 313.52,322.93 313.78,323.9 314.05,324.87 314.31,325.84 314.57,326.8 314.84,327.77 315.1,328.74 315.36,329.71 315.62,330.68 315.89,331.65 316.15,332.62 316.41,333.59 316.67,334.56 316.93,335.53 317.19,336.5 317.45,337.47 317.71,338.44 317.97,339.41 318.22,340.38 318.48,341.35 318.74,342.32 319,343.3 319.25,344.27 319.51,345.24 319.76,346.21 320.02,347.18 320.27,348.15 320.52,349.12 320.78,350.09 321.03,351.06 321.28,352.04 321.53,353.01 321.78,353.98 322.03,354.95 322.28,355.92 322.52,356.89 322.77,357.86 323.02,358.84 323.26,359.81 323.51,360.78 323.75,361.75 324,362.72 324.24,363.69 324.48,364.67 324.72,365.64 324.96,366.61 325.2,367.58 325.44,368.55 325.68,369.53 325.91,370.5 326.15,371.47 326.39,372.44 326.62,373.41 326.85,374.39 327.08,375.36 327.32,376.33 327.55,377.3 327.77,378.28 328,379.25 328.23,380.22 328.46,381.19 328.68,382.17 328.91,383.14 329.13,384.11 329.35,385.09 329.57,386.06 329.79,387.04 330.01,388.01 330.23,388.99 330.45,389.97 330.67,390.94 330.88,391.92 331.09,392.9 331.31,393.88 331.52,394.86 331.73,395.84 331.94,396.82 332.15,397.8 332.36,398.78 332.57,399.76 332.77,400.74 332.98,401.73 333.18,402.71 333.38,403.7 333.58,404.69 333.79,405.68 333.98,406.66 334.18,407.65 334.38,408.65 334.58,409.64 334.77,410.63 334.97,411.62 335.16,412.62 335.35,413.62 335.54,414.61 335.73,415.61 335.92,416.61 336.12,417.61 336.32,418.6 336.53,419.6 336.75,420.59 336.97,421.57 337.21,422.55 337.46,423.53 337.73,424.5 338.01,425.46 338.31,426.41 338.63,427.36 338.97,428.29 339.33,429.22 339.71,430.13 340.13,431.04 340.57,431.93 341.03,432.81 341.53,433.67 342.06,434.52 342.61,435.35 343.19,436.16 343.79,436.96 344.42,437.74 345.07,438.5 345.75,439.23 346.44,439.94 347.16,440.63 347.9,441.3 348.65,441.94 349.42,442.55 350.21,443.14 351.02,443.7 351.84,444.23 352.68,444.72 353.53,445.19 354.39,445.63 355.27,446.05 356.16,446.43 357.06,446.79 357.97,447.13 358.9,447.44 359.83,447.73 360.78,447.99 361.73,448.24 362.69,448.47 363.66,448.67 364.64,448.86 365.62,449.03 366.62,449.18 367.61,449.32 368.62,449.45 369.63,449.56 370.64,449.65 371.66,449.74 372.68,449.81 373.7,449.88 374.73,449.93 375.76,449.98 376.79,450.02 377.82,450.05 378.85,450.08 379.89,450.1 380.92,450.12 381.95,450.14 382.98,450.15 384,450.16 385.03,450.18 386.05,450.19 387.07,450.21 388.08,450.23 389.09,450.25 390.1,450.27 391.1,450.3 392.1,450.33 393.1,450.36 394.09,450.39 395.08,450.42 396.07,450.45 397.06,450.49 398.05,450.52 399.03,450.56 400.02,450.59 401,450.63 401.98,450.66 402.97,450.7 403.95,450.73 404.93,450.77 405.91,450.8 406.9,450.83 407.88,450.86 408.86,450.89 409.85,450.91 410.84,450.93 411.83,450.95 412.82,450.97 413.82,450.99 414.82,451 415.82,451.01 416.82,451.01 417.83,451.01 418.84,451.01 419.86,451 420.88,450.99 421.9,450.98 422.93,450.96 423.96,450.93 425,450.9"/>
<polyline class="c t" stroke="#0000ff" points="425,450.9 440,450.95 678.6,450.95"/>
<polyline class="c" stroke="#00ff00" points="293.1,236 293.1,275.5 294.07,275.21 295,274.83 295.9,274.39 296.79,273.89 297.65,273.35 298.52,272.8 299.37,272.24 300.24,271.69 301.11,271.17 302,270.7 302.53,271.56 303.05,272.43 303.57,273.29 304.07,274.16 304.57,275.04 305.06,275.92 305.54,276.8 306.01,277.68 306.48,278.57 306.94,279.46 307.39,280.36 307.84,281.25 308.27,282.15 308.71,283.06 309.13,283.96 309.55,284.87 309.96,285.78 310.37,286.7 310.77,287.61 311.16,288.53 311.55,289.45 311.93,290.37 312.31,291.3 312.68,292.23 313.05,293.16 313.41,294.09 313.77,295.02 314.12,295.96 314.47,296.89 314.82,297.83 315.16,298.77 315.5,299.72 315.83,300.66 316.16,301.6 316.48,302.55 316.81,303.5 317.13,304.45 317.44,305.4 317.76,306.35 318.07,307.3 318.38,308.26 318.68,309.21 318.99,310.17 319.29,311.12 319.59,312.08 319.89,313.04 320.18,314 320.48,314.95 320.77,315.91 321.07,316.87 321.36,317.83 321.65,318.79 321.94,319.75 322.23,320.71 322.52,321.67 322.81,322.63 323.1,323.6 323.39,324.56 323.68,325.52 323.97,326.47 324.26,327.43 324.55,328.39 324.85,329.35 325.14,330.31 325.44,331.27 325.73,332.22 326.03,333.18 326.33,334.13 326.63,335.09 326.93,336.04 327.24,336.99 327.54,337.95 327.85,338.9 328.15,339.85 328.46,340.8 328.77,341.75 329.07,342.71 329.38,343.66 329.69,344.61 329.99,345.56 330.3,346.51 330.6,347.46 330.91,348.41 331.21,349.36 331.52,350.31 331.82,351.27 332.12,352.22 332.42,353.17 332.72,354.13 333.02,355.08 333.31,356.03 333.6,356.99 333.89,357.95 334.18,358.9 334.47,359.86 334.75,360.82 335.04,361.78 335.31,362.74 335.59,363.7 335.86,364.67 336.13,365.63 336.4,366.6 336.66,367.57 336.92,368.53 337.18,369.51 337.43,370.48 337.68,371.45 337.93,372.42 338.17,373.4 338.41,374.38 338.65,375.35 338.88,376.33 339.11,377.31 339.34,378.29 339.57,379.27 339.8,380.25 340.02,381.23 340.24,382.22 340.46,383.2 340.68,384.18 340.9,385.16 341.12,386.15 341.33,387.13 341.55,388.11 341.76,389.1 341.97,390.08 342.18,391.06 342.4,392.04 342.61,393.02 342.82,394.01 343.03,394.99 343.24,395.97 343.45,396.95 343.66,397.93 343.88,398.9 344.09,399.88 344.3,400.86 344.52,401.83 344.73,402.8 344.95,403.78 345.17,404.75 345.39,405.72 345.61,406.69 345.83,407.65 346.05,408.62 346.27,409.59 346.5,410.55 346.72,411.52 346.94,412.49 347.17,413.45 347.39,414.42 347.62,415.38 347.84,416.35 348.06,417.31 348.28,418.28 348.51,419.25 348.73,420.21 348.95,421.18 349.17,422.15 349.38,423.12 349.6,424.1 349.81,425.07 350.03,426.04 350.24,427.02 350.45,428 350.66,428.98 350.86,429.96 351.06,430.95 351.26,431.93 351.46,432.92 351.66,433.92 351.85,434.91 352.04,435.91 352.23,436.91 352.41,437.91 352.59,438.92 352.77,439.93 352.95,440.93 353.13,441.94 353.31,442.96 353.49,443.97 353.68,444.97 353.87,445.98 354.06,446.99 354.26,447.99 354.47,448.99 354.68,449.99 354.9,450.99 355.13,451.97 355.37,452.96 355.62,453.94 355.88,454.91 356.15,455.87 356.44,456.83 356.74,457.78 357.05,458.72 357.38,459.66 357.73,460.58 358.09,461.49 358.48,462.4 358.88,463.29 359.3,464.17 359.74,465.04 360.21,465.89 360.7,466.73 361.21,467.56 361.74,468.38 362.3,469.17 362.88,469.96 363.49,470.72 364.12,471.47 364.78,472.2 365.45,472.91 366.15,473.6 366.87,474.26 367.61,474.9 368.37,475.52 369.15,476.12 369.95,476.68 370.76,477.23 371.6,477.74 372.46,478.22 373.33,478.68 374.22,479.1 375.12,479.49 376.05,479.85 376.98,480.18 377.94,480.48 378.9,480.75 379.87,481 380.86,481.22 381.85,481.42 382.85,481.6 383.86,481.76 384.87,481.91 385.89,482.04 386.91,482.16 387.93,482.27 388.95,482.36 389.97,482.46 390.99,482.54 392,482.62 393.01,482.7 394.02,482.77 395.03,482.84 396.04,482.91 397.04,482.97 398.04,483.03 399.05,483.09 400.04,483.14 401.04,483.19 402.04,483.23 403.04,483.28 404.03,483.32 405.03,483.36 406.02,483.4 407.01,483.44 408.01,483.47 409,483.5 409.99,483.54 410.99,483.57 411.98,483.6 412.97,483.63 413.97,483.66 414.96,483.68 415.96,483.71 416.96,483.74 417.96,483.77 418.96,483.8 419.96,483.83 420.97,483.86 421.97,483.9 422.98,483.93 423.99,483.96 425,484"/>
<polyline class="c t" stroke="#00ff00" points="425,484 440,484.3 470,484.5 735.8,484.5"/>
<polyline class="c" stroke="#ff0000" points="293.1,264.3 293.1,275.8 293.1,265 293.64,263.89 294.24,262.95 294.89,262.18 295.59,261.57 296.34,261.11 297.12,260.78 297.93,260.59 298.77,260.51 299.62,260.54 300.49,260.67 301.37,260.89 302.25,261.19 303.13,261.56 304,262 304.87,262.49 305.73,263.03 306.58,263.6 307.41,264.22 308.24,264.85 309.04,265.51 309.83,266.18 310.6,266.86 311.36,267.55 312.1,268.25 312.82,268.97 313.53,269.69 314.23,270.42 314.91,271.17 315.58,271.92 316.24,272.68 316.88,273.44 317.52,274.22 318.14,275 318.75,275.79 319.36,276.59 319.95,277.39 320.54,278.19 321.12,279.01 321.69,279.82 322.25,280.64 322.81,281.47 323.36,282.3 323.91,283.13 324.46,283.96 324.99,284.8 325.53,285.64 326.06,286.48 326.58,287.33 327.1,288.18 327.61,289.04 328.12,289.89 328.62,290.75 329.12,291.61 329.62,292.48 330.11,293.34 330.6,294.21 331.08,295.09 331.56,295.96 332.03,296.84 332.5,297.72 332.97,298.6 333.43,299.48 333.89,300.37 334.35,301.26 334.8,302.15 335.24,303.04 335.69,303.94 336.13,304.83 336.57,305.73 337,306.63 337.43,307.53 337.86,308.44 338.28,309.34 338.71,310.25 339.12,311.16 339.54,312.06 339.95,312.98 340.36,313.89 340.77,314.8 341.17,315.72 341.58,316.63 341.98,317.55 342.37,318.47 342.77,319.39 343.16,320.31 343.55,321.23 343.94,322.15 344.33,323.07 344.71,323.99 345.09,324.92 345.47,325.84 345.85,326.77 346.22,327.69 346.6,328.62 346.97,329.55 347.34,330.48 347.71,331.41 348.07,332.34 348.43,333.27 348.8,334.2 349.16,335.13 349.51,336.07 349.87,337 350.22,337.94 350.57,338.87 350.92,339.81 351.27,340.74 351.62,341.68 351.96,342.62 352.31,343.56 352.65,344.5 352.98,345.44 353.32,346.38 353.66,347.32 353.99,348.26 354.32,349.21 354.65,350.15 354.98,351.09 355.31,352.04 355.63,352.98 355.96,353.93 356.28,354.88 356.6,355.82 356.92,356.77 357.23,357.72 357.55,358.67 357.86,359.62 358.17,360.57 358.49,361.52 358.79,362.47 359.1,363.42 359.41,364.37 359.71,365.32 360.02,366.28 360.32,367.23 360.62,368.18 360.92,369.14 361.21,370.09 361.51,371.05 361.8,372 362.1,372.96 362.39,373.92 362.68,374.87 362.97,375.83 363.26,376.79 363.54,377.75 363.83,378.71 364.11,379.66 364.39,380.62 364.68,381.58 364.96,382.54 365.24,383.51 365.51,384.47 365.79,385.43 366.07,386.39 366.34,387.35 366.61,388.31 366.89,389.28 367.16,390.24 367.43,391.2 367.7,392.17 367.96,393.13 368.23,394.1 368.5,395.06 368.76,396.02 369.02,396.99 369.29,397.95 369.55,398.92 369.81,399.89 370.07,400.85 370.33,401.82 370.59,402.79 370.84,403.75 371.1,404.72 371.36,405.69 371.61,406.65 371.86,407.62 372.12,408.59 372.37,409.56 372.62,410.52 372.87,411.49 373.12,412.46 373.37,413.43 373.62,414.4 373.86,415.37 374.11,416.34 374.35,417.31 374.6,418.28 374.84,419.25 375.08,420.22 375.32,421.19 375.56,422.16 375.8,423.13 376.04,424.1 376.27,425.07 376.51,426.04 376.74,427.02 376.97,427.99 377.21,428.96 377.44,429.93 377.67,430.91 377.89,431.88 378.12,432.85 378.35,433.83 378.57,434.8 378.8,435.77 379.02,436.75 379.24,437.72 379.46,438.7 379.68,439.67 379.89,440.65 380.11,441.63 380.32,442.6 380.54,443.58 380.75,444.56 380.96,445.53 381.17,446.51 381.38,447.49 381.58,448.47 381.79,449.44 381.99,450.42 382.19,451.4 382.39,452.38 382.59,453.36 382.79,454.34 382.99,455.32 383.18,456.3 383.38,457.28 383.57,458.26 383.77,459.24 383.96,460.22 384.16,461.2 384.35,462.19 384.54,463.17 384.74,464.15 384.93,465.13 385.13,466.11 385.33,467.09 385.52,468.07 385.72,469.05 385.92,470.03 386.13,471.01 386.33,471.99 386.53,472.97 386.74,473.94 386.95,474.92 387.16,475.9 387.38,476.88 387.59,477.85 387.81,478.83 388.04,479.8 388.26,480.78 388.49,481.75 388.72,482.73 388.96,483.7 389.2,484.67 389.44,485.64 389.69,486.61 389.94,487.58 390.2,488.55 390.46,489.52 390.73,490.49 391,491.45 391.27,492.42 391.55,493.38 391.84,494.34 392.13,495.3 392.43,496.26 392.73,497.22 393.04,498.18 393.36,499.14 393.68,500.09 394.02,501.03 394.37,501.97 394.74,502.9 395.13,503.82 395.54,504.72 395.97,505.61 396.43,506.48 396.92,507.33 397.44,508.16 397.99,508.96 398.58,509.75 399.2,510.5 399.86,511.23 400.55,511.93 401.27,512.6 402.03,513.25 402.8,513.87 403.61,514.46 404.43,515.03 405.27,515.57 406.13,516.08 407,516.57 407.88,517.03 408.78,517.46 409.68,517.87 410.6,518.26 411.53,518.63 412.47,518.98 413.41,519.3 414.37,519.61 415.33,519.9 416.29,520.17 417.27,520.43 418.24,520.67 419.23,520.9 420.21,521.11 421.2,521.32 422.2,521.51 423.19,521.7 424.18,521.87 425.18,522.04 426.17,522.2 427.17,522.35 428.16,522.5 429.16,522.64 430.15,522.78 431.14,522.91 432.14,523.04 433.13,523.16 434.12,523.27 435.11,523.38 436.11,523.48 437.1,523.58 438.09,523.68 439.08,523.77 440.07,523.86 441.06,523.94 442.06,524.02 443.05,524.09 444.04,524.16 445.03,524.23 446.03,524.29 447.02,524.35 448.01,524.41 449.01,524.47 450,524.52 450.99,524.57 451.99,524.61 452.98,524.66 453.98,524.7 454.98,524.74 455.97,524.78 456.97,524.81 457.97,524.85 458.97,524.88 459.96,524.91 460.96,524.95 461.96,524.98 462.97,525.01 463.97,525.03 464.97,525.06 465.98,525.09 466.98,525.12 467.99,525.14 468.99,525.17 470,525.2"/>
<polyline class="c t" stroke="#ff0000" points="470,525.2 490,525.45 520,525.65 560,525.8 792.9,525.8"/>
<circle cx="501.1" cy="277.65" r="7.25" fill="#808080"/>
<circle cx="501.5" cy="306.9" r="7.25" fill="#ff4500"/>
<circle cx="504.1" cy="334.8" r="7.25" fill="#000000"/>
<circle cx="521.3" cy="363.05" r="7.25" fill="#ffff00"/>
<circle cx="566" cy="392.3" r="7.25" fill="#00ffff"/>
<circle cx="621.4" cy="420.3" r="7.25" fill="#ff00ff"/>
<circle cx="678.6" cy="449.55" r="7.25" fill="#0000ff"/>
<circle cx="735.8" cy="483.7" r="7.25" fill="#00ff00"/>
<circle cx="792.9" cy="525" r="7.25" fill="#ff0000"/>
<rect class="ax" x="72.7" y="19.3" width="741.6" height="513"/>
</svg></body></html>
